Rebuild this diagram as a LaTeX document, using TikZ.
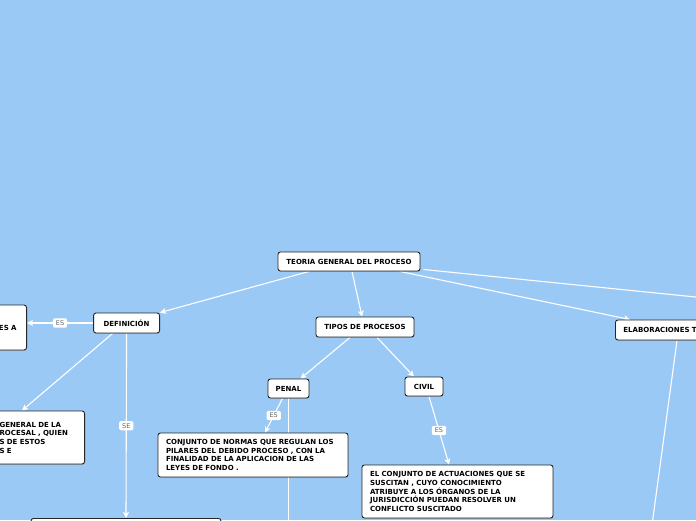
\documentclass[tikz,border=0pt]{standalone}
\usepackage{fontspec}
\setmainfont{DejaVu Sans}
\usetikzlibrary{arrows.meta,shadows}
\definecolor{skyback}{RGB}{155,201,245}
\pgfdeclarelayer{background}
\pgfsetlayers{background,main}

\begin{document}
\begin{tikzpicture}[x=1pt, y=-1pt,
  topic/.style={draw=black!85, fill=white, rounded corners=2.5pt, line width=0.9pt,
    drop shadow={shadow xshift=0.4pt, shadow yshift=-0.8pt, opacity=0.45},
    font=\fontsize{7}{8.7}\selectfont\bfseries, inner sep=0pt},
  link/.style={draw=white, line width=1.1pt, -{Stealth[length=6pt,width=6pt,inset=1.5pt]}},
  plain/.style={draw=white, line width=1.1pt},
  tag/.style={fill=white, text=black!60, rounded corners=1.5pt,
    font=\fontsize{6.5}{7}\selectfont, inner xsep=3pt, inner ysep=2.2pt}]
  \useasboundingbox (0,0) rectangle (696,520);
  % main topic
  \node[topic, minimum width=142pt, minimum height=19pt] (teoria) at (349,261.5) {TEORIA GENERAL DEL PROCESO};
  % definicion branch
  \node[topic, anchor=east, minimum width=66pt, minimum height=20pt] (def) at (160,323) {DEFINICIÓN};
  \node[topic, anchor=east, minimum width=80pt, minimum height=45pt, text width=60pt, align=right] (esA) at (27,327.5) {ES A\\[5pt]};
  \node[topic, anchor=east, minimum width=90pt, minimum height=53pt, text width=80pt, align=left] (gen) at (85,437.5)
    {GENERAL DE LA\\ROCESAL , QUIEN\\S DE ESTOS\\S E\\[6pt]};
  \node[topic, anchor=north, minimum width=190pt, minimum height=40pt] (sebox) at (126,518) {};
  % tipos de procesos
  \node[topic, minimum width=98pt, minimum height=20pt] (tipos) at (365,327) {TIPOS DE PROCESOS};
  \node[topic, minimum width=41pt, minimum height=19pt] (penal) at (288.5,388.5) {PENAL};
  \node[topic, minimum width=38pt, minimum height=19pt] (civil) at (424,386.5) {CIVIL};
  \node[topic, minimum width=190pt, minimum height=44pt, text width=174pt, align=left] (norms) at (253,455)
    {CONJUNTO DE NORMAS QUE REGULAN LOS\\PILARES DEL DEBIDO PROCESO , CON LA\\FINALIDAD DE LA APLICACION DE LAS\\LEYES DE FONDO .};
  \node[topic, minimum width=191pt, minimum height=53pt, text width=175pt, align=left] (act) at (457.5,491.5)
    {EL CONJUNTO DE ACTUACIONES QUE SE\\SUSCITAN , CUYO CONOCIMIENTO\\ATRIBUYE A LOS ÓRGANOS DE LA\\JURISDICCIÓN PUEDAN RESOLVER UN\\CONFLICTO SUSCITADO};
  % elaboraciones
  \node[topic, anchor=west, minimum width=116pt, minimum height=20pt, text width=100pt, align=left] (elab) at (615,330) {ELABORACIONES T};
  % loose ends leaving the frame
  \coordinate (farright) at (740,301.5);
  \coordinate (penalend) at (288.5,540);
  \coordinate (elabend) at (650,540);
  % connectors behind the boxes
  \begin{pgfonlayer}{background}
    \fill[skyback] (0,0) rectangle (696,520);
    \draw[link] ([xshift=-40pt]teoria.south) -- (def.north east);
    \draw[link] ([xshift=3pt]teoria.south) -- ([xshift=-3pt]tipos.north);
    \draw[link] ([xshift=51pt]teoria.south) -- ([xshift=15pt]elab.north west);
    \draw[plain] ([xshift=3pt, yshift=2pt]teoria.south east) -- (farright);
    \draw[link] (def.west) -- node[tag] (esdef) {ES} (def.west -| esA.east);
    \draw[link] ([xshift=-14pt]def.south) -- ([xshift=-63pt]gen.north east);
    \draw[link] (def.south) -- node[tag] (sedef) {SE} (sebox.north);
    \draw[link] ([xshift=-15pt]tipos.south) -- ([xshift=12pt]penal.north);
    \draw[link] ([xshift=12pt]tipos.south) -- ([xshift=-10pt]civil.north);
    \draw[link] ([xshift=-6pt]penal.south) -- node[tag] (espenal) {ES} ([xshift=12pt]norms.north);
    \draw[plain] (penal.south) -- (penalend);
    \draw[link] ([xshift=5pt]civil.south) -- node[tag] (escivil) {ES} ([xshift=-8.5pt]act.north);
    \draw[plain] ([xshift=62pt]elab.south west) -- (elabend);
  \end{pgfonlayer}
\end{tikzpicture}
\end{document}
